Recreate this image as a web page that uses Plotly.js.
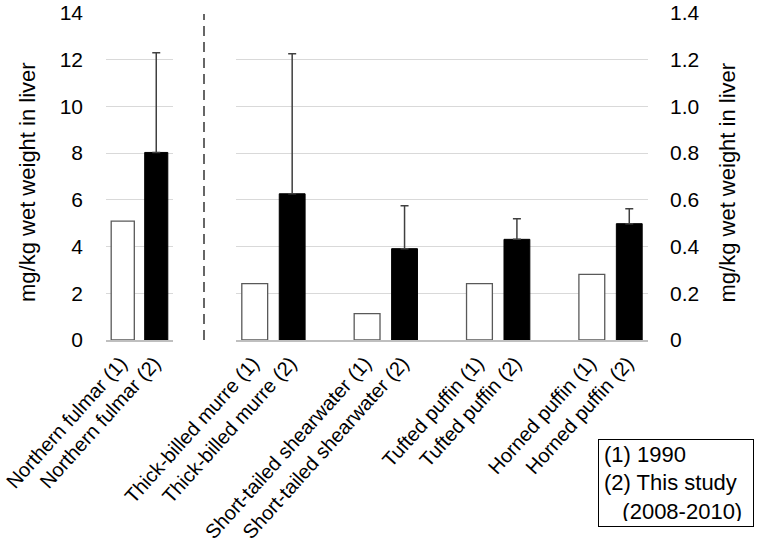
<!DOCTYPE html>
<html>
<head>
<meta charset="utf-8">
<script src="https://cdn.plot.ly/plotly-3.0.1.min.js"></script>
<style>html,body{margin:0;padding:0;background:#fff;}#chart{width:768px;height:548px;}</style>
</head>
<body>
<div id="chart"></div>
<script>
// Left panel (left axis, 0-14)
const leftLabels = ["Northern fulmar (1)", "Northern fulmar (2)"];
const leftValues = [5.09, 8.03];
const leftErrUpper = [null, 4.27];

// Right panel (right axis, 0-1.4)
const rightLabels = [
  "Thick-billed murre (1)", "Thick-billed murre (2)",
  "Short-tailed shearwater (1)", "Short-tailed shearwater (2)",
  "Tufted puffin (1)", "Tufted puffin (2)",
  "Horned puffin (1)", "Horned puffin (2)"
];
const rightValues = [0.241, 0.626, 0.113, 0.391, 0.241, 0.431, 0.281, 0.498];
const rightErrUpper = [null, 0.60, null, 0.184, null, 0.088, null, 0.064];

const leftTickVals = [0, 2, 4, 6, 8, 10, 12, 14];
const rightTickVals = [0, 0.2, 0.4, 0.6, 0.8, 1.0, 1.2, 1.4];
const rightTickText = ["0", "0.2", "0.4", "0.6", "0.8", "1.0", "1.2", "1.4"];

const yTitle = "mg/kg wet weight in liver";
const legendLines = ["(1) 1990", "(2) This study", "\u00a0\u00a0\u00a0(2008-2010)"];

// slot positions on right panel: pairs separated by an empty slot
const rightPos = rightLabels.map((_, i) => i + Math.floor(i / 2));

const FONT = "Liberation Sans, Arial, sans-serif";
const BW = 0.69;
const outline = "#595959";
const errStyle = {color: "#404040", thickness: 1.5, width: 4};

function pick(arr, parity) { return arr.filter((_, i) => i % 2 === parity); }

const traces = [
  {type: "bar", xaxis: "x", yaxis: "y", x: pick(leftLabels, 0), y: pick(leftValues, 0), width: BW,
   marker: {color: "#ffffff", line: {color: outline, width: 1.3}}},
  {type: "bar", xaxis: "x", yaxis: "y", x: pick(leftLabels, 1), y: pick(leftValues, 1), width: BW,
   marker: {color: "#000000", line: {color: "#000000", width: 1}},
   error_y: Object.assign({type: "data", symmetric: false, array: pick(leftErrUpper, 1), arrayminus: pick(leftErrUpper, 1).map(() => 0), visible: true}, errStyle)},
  {type: "bar", xaxis: "x2", yaxis: "y2", x: pick(rightPos, 0), y: pick(rightValues, 0), width: BW,
   marker: {color: "#ffffff", line: {color: outline, width: 1.3}}},
  {type: "bar", xaxis: "x2", yaxis: "y2", x: pick(rightPos, 1), y: pick(rightValues, 1), width: BW,
   marker: {color: "#000000", line: {color: "#000000", width: 1}},
   error_y: Object.assign({type: "data", symmetric: false, array: pick(rightErrUpper, 1), arrayminus: pick(rightErrUpper, 1).map(() => 0), visible: true}, errStyle)}
];

const H = 548, W = 768;
const yDom = [(H - 340) / H, (H - 13) / H];

const tickFont = {family: FONT, size: 21, color: "#000000"};
const xTickFont = {family: FONT, size: 20, color: "#000000"};
const TANG = -48;

const layout = {
  width: W, height: H,
  margin: {l: 0, r: 0, t: 0, b: 0},
  paper_bgcolor: "#ffffff", plot_bgcolor: "#ffffff",
  showlegend: false,
  barmode: "overlay",
  font: {family: FONT, size: 20, color: "#000000"},
  xaxis: {
    domain: [106 / W, 173 / W], type: "category", categoryarray: leftLabels, range: [-0.5, 1.5],
    anchor: "y", tickangle: TANG, tickfont: xTickFont, showgrid: false, zeroline: false,
    showline: true, linecolor: "#bfbfbf", linewidth: 1.5, ticks: "", automargin: false,
    ticklabelstandoff: 2, ticklabelshift: -2
  },
  yaxis: {
    domain: yDom, range: [0, 14], anchor: "x", tickvals: leftTickVals,
    tickfont: tickFont, showgrid: true, gridcolor: "#d9d9d9", gridwidth: 1,
    zeroline: false, showline: false, ticks: "", ticklabelstandoff: 22, automargin: false
  },
  xaxis2: {
    domain: [236 / W, 648 / W], range: [-0.5, 10.5], anchor: "y2",
    tickvals: rightPos, ticktext: rightLabels, tickangle: TANG, tickfont: xTickFont,
    showgrid: false, zeroline: false, showline: true, linecolor: "#bfbfbf", linewidth: 1.5,
    ticks: "", automargin: false, ticklabelstandoff: 2, ticklabelshift: -2
  },
  yaxis2: {
    domain: yDom, range: [0, 1.4], anchor: "x2", side: "right",
    tickvals: rightTickVals, ticktext: rightTickText, tickfont: tickFont,
    showgrid: true, gridcolor: "#d9d9d9", gridwidth: 1, zeroline: false, showline: false,
    ticks: "", ticklabelstandoff: 21, automargin: false
  },
  shapes: [{
    type: "line", xref: "paper", yref: "paper",
    x0: 204 / W, x1: 204 / W, y0: yDom[0], y1: (H - 14) / H,
    line: {color: "#666666", width: 2, dash: "10px,6px"}
  }],
  annotations: [
    {xref: "paper", yref: "paper", x: 27.5 / W, y: (H - 182.5) / H,
     text: yTitle, textangle: -90, showarrow: false, font: {family: FONT, size: 22, color: "#000"},
     xanchor: "center", yanchor: "middle"},
    {xref: "paper", yref: "paper", x: 727 / W, y: (H - 182.5) / H,
     text: yTitle, textangle: -90, showarrow: false, font: {family: FONT, size: 22, color: "#000"},
     xanchor: "center", yanchor: "middle"},
    {xref: "paper", yref: "paper", x: 598 / W, y: (H - 439) / H, xanchor: "left", yanchor: "top",
     text: legendLines.join("<br>"), align: "left", showarrow: false,
     font: {family: FONT, size: 22, color: "#000"},
     bordercolor: "#000000", borderwidth: 1, borderpad: 5, bgcolor: "#ffffff",
     width: 144, height: 76, valign: "middle"}
  ]
};

Plotly.newPlot("chart", traces, layout, {displayModeBar: false, staticPlot: true});
</script>
</body>
</html>
